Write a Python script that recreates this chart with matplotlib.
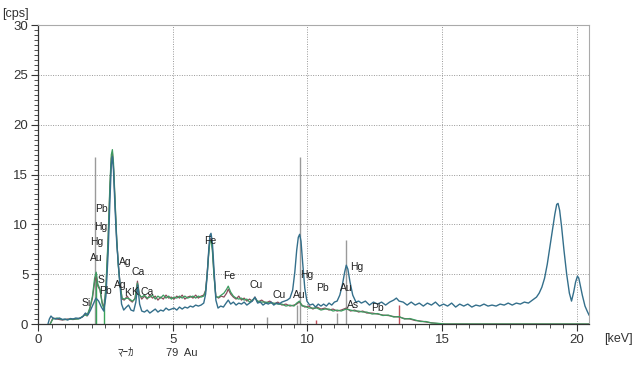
"""
plot.py
XRF spectrum overlay (cps vs keV) with Au marker lines and element labels.
"""

import matplotlib
matplotlib.use("Agg")
import matplotlib.pyplot as plt
from matplotlib.ticker import MultipleLocator

# --- spectrum A (teal) ---
energy_a = [0.37, 0.42, 0.48, 0.55, 0.65, 0.8, 0.9, 1.0, 1.1, 1.2, 1.3, 1.4, 1.55, 1.68,
            1.76, 1.85, 1.95, 2.05, 2.15, 2.25, 2.35, 2.44, 2.52, 2.6, 2.67, 2.72, 2.76,
            2.8, 2.86, 2.92, 2.98, 3.04, 3.1, 3.18, 3.28, 3.36, 3.45, 3.55, 3.63, 3.7,
            3.77, 3.85, 3.95, 4.05, 4.15, 4.25, 4.35, 4.45, 4.55, 4.65, 4.75, 4.85, 4.95,
            5.05, 5.15, 5.25, 5.35, 5.45, 5.55, 5.65, 5.75, 5.85, 5.95, 6.05, 6.15, 6.22,
            6.28, 6.34, 6.38, 6.42, 6.47, 6.53, 6.6, 6.68, 6.78, 6.88, 6.98, 7.06, 7.15,
            7.25, 7.35, 7.45, 7.55, 7.65, 7.75, 7.85, 7.95, 8.05, 8.15, 8.25, 8.35, 8.45,
            8.55, 8.65, 8.75, 8.85, 8.95, 9.05, 9.15, 9.25, 9.35, 9.45, 9.53, 9.6, 9.66,
            9.71, 9.76, 9.82, 9.9, 9.98, 10.08, 10.2, 10.3, 10.4, 10.5, 10.6, 10.7, 10.8,
            10.9, 11.0, 11.1, 11.2, 11.3, 11.38, 11.44, 11.5, 11.58, 11.68, 11.8, 11.9,
            12.0, 12.15, 12.3, 12.45, 12.6, 12.75, 12.9, 13.05, 13.2, 13.3, 13.4, 13.55,
            13.7, 13.85, 14.0, 14.15, 14.3, 14.45, 14.6, 14.75, 14.9, 15.05, 15.2, 15.35,
            15.5, 15.65, 15.8, 15.95, 16.1, 16.25, 16.4, 16.55, 16.7, 16.85, 17.0, 17.15,
            17.3, 17.45, 17.6, 17.75, 17.9, 18.05, 18.2, 18.35, 18.5, 18.6, 18.7, 18.8,
            18.9, 19.0, 19.1, 19.18, 19.25, 19.3, 19.36, 19.43, 19.52, 19.62, 19.72, 19.8,
            19.88, 19.95, 20.02, 20.07, 20.13, 20.2, 20.3, 20.38, 20.45]
cps_a = [0.0, 0.5, 0.8, 0.6, 0.5, 0.6, 0.45, 0.5, 0.4, 0.55, 0.5, 0.6, 0.55, 0.8,
         1.1, 0.9, 1.4, 2.0, 2.6, 2.3, 1.7, 1.3, 2.8, 7.0, 12.5, 16.0, 16.8,
         15.5, 11.5, 8.2, 6.0, 4.0, 2.0, 1.4, 1.7, 1.9, 1.4, 1.3, 2.2, 3.9,
         2.0, 1.3, 1.2, 1.4, 1.1, 1.3, 1.5, 1.2, 1.4, 1.3, 1.6, 1.4, 1.5,
         1.6, 1.4, 1.7, 1.5, 1.7, 1.6, 1.8, 1.7, 1.9, 1.8, 1.9, 2.1, 3.0,
         5.0, 7.6, 8.9, 9.1, 8.2, 5.5, 2.4, 1.6, 1.8, 1.7, 2.1, 2.4, 2.0,
         2.2, 1.9, 2.1, 2.0, 2.2, 1.9, 2.1, 2.3, 2.7, 2.1, 2.2, 1.9, 2.1,
         2.0, 2.2, 1.9, 2.1, 2.0, 2.2, 2.3, 2.4, 2.6, 3.4, 5.2, 7.4, 8.7,
         9.0, 8.3, 6.2, 3.6, 2.3, 1.9, 2.0, 1.7, 2.0, 1.8, 2.0, 1.8, 2.1,
         1.9, 2.2, 2.3, 2.9, 4.0, 5.2, 5.9, 5.5, 4.2, 2.9, 2.2, 2.3,
         2.1, 2.3, 1.9, 2.2, 2.0, 2.2, 1.9, 2.2, 2.4, 2.6, 2.3, 2.2,
         1.9, 2.2, 1.9, 2.1, 1.8, 2.1, 1.9, 2.2, 1.8, 2.0, 1.8, 2.1,
         1.7, 2.0, 1.8, 2.0, 1.7, 1.9, 1.8, 2.0, 1.8, 1.9, 1.8, 2.0,
         1.9, 2.1, 1.9, 2.1, 2.0, 2.2, 2.1, 2.4, 2.7, 3.1, 3.7, 4.6,
         6.0, 7.8, 9.6, 11.0, 12.0, 12.1, 11.4, 9.8, 7.4, 5.0, 3.1, 2.3,
         3.2, 4.2, 4.8, 4.6, 3.8, 2.9, 1.8, 1.3, 0.9]

# --- spectra B (brown) and C (green), same energy grid ---
energy_b = [0.45, 0.55, 0.7, 0.9, 1.1, 1.3, 1.5, 1.65, 1.74, 1.82, 1.92, 2.02, 2.1, 2.16,
            2.22, 2.3, 2.38, 2.45, 2.52, 2.6, 2.67, 2.72, 2.76, 2.8, 2.86, 2.92, 2.98, 3.04,
            3.12, 3.2, 3.31, 3.4, 3.5, 3.6, 3.69, 3.76, 3.85, 3.95, 4.05, 4.15, 4.25, 4.35,
            4.45, 4.55, 4.65, 4.75, 4.85, 4.95, 5.05, 5.15, 5.25, 5.35, 5.45, 5.55, 5.65,
            5.75, 5.85, 5.95, 6.05, 6.15, 6.22, 6.28, 6.34, 6.38, 6.42, 6.47, 6.53, 6.6,
            6.7, 6.8, 6.9, 7.0, 7.06, 7.15, 7.25, 7.35, 7.45, 7.55, 7.65, 7.75, 7.85, 7.95,
            8.05, 8.15, 8.3, 8.45, 8.6, 8.75, 8.9, 9.05, 9.2, 9.35, 9.5, 9.6, 9.7, 9.8,
            9.9, 10.05, 10.2, 10.35, 10.5, 10.65, 10.8, 10.95, 11.1, 11.25, 11.44, 11.6,
            11.75, 11.9, 12.05, 12.2, 12.4, 12.6, 12.8, 13.0, 13.2, 13.4, 13.6, 13.8, 14.0,
            14.2, 14.4, 14.6, 14.8, 15.1, 16.0, 18.0, 20.45]
cps_b = [0.0, 0.6, 0.5, 0.4, 0.5, 0.45, 0.55, 0.7, 1.0, 0.8, 1.5, 2.6, 4.2, 4.8,
         3.8, 3.4, 2.2, 1.6, 3.5, 8.2, 13.8, 16.6, 17.2, 15.8, 12.0, 8.4, 6.0, 4.2,
         2.5, 2.4, 2.8, 2.4, 2.2, 2.6, 4.3, 3.0, 2.5, 2.8, 2.5, 2.9, 2.6, 2.8,
         2.4, 2.7, 2.5, 2.9, 2.6, 2.7, 2.5, 2.8, 2.6, 2.9, 2.5, 2.7, 2.8,
         2.6, 2.9, 2.6, 2.8, 2.9, 3.4, 5.2, 7.4, 8.5, 8.6, 7.6, 5.0, 2.8,
         2.6, 2.8, 2.7, 3.1, 3.5, 3.0, 2.7, 2.5, 2.8, 2.4, 2.6, 2.3, 2.5, 2.3,
         2.7, 2.2, 2.4, 2.1, 2.3, 2.0, 2.2, 1.9, 2.0, 1.8, 1.9, 2.0, 2.2, 1.9,
         1.7, 1.8, 1.5, 1.7, 1.5, 1.6, 1.4, 1.5, 1.3, 1.4, 1.6, 1.3,
         1.4, 1.2, 1.3, 1.1, 1.1, 1.0, 0.9, 0.85, 0.75, 0.7, 0.55, 0.5, 0.35,
         0.3, 0.2, 0.12, 0.05, 0.0, 0.0, 0.0, 0.0]
cps_c = [0.0, 0.5, 0.6, 0.45, 0.45, 0.5, 0.5, 0.75, 0.9, 0.85, 1.6, 2.8, 4.6, 5.2,
         4.0, 3.5, 2.0, 1.5, 3.8, 8.6, 14.2, 17.0, 17.5, 16.2, 12.3, 8.6, 5.8, 4.0,
         2.6, 2.5, 2.6, 2.5, 2.3, 2.5, 4.1, 2.9, 2.7, 2.9, 2.6, 2.7, 2.9, 2.5,
         2.8, 2.6, 2.9, 2.6, 2.8, 2.5, 2.7, 2.6, 2.8, 2.6, 2.8, 2.6, 2.7,
         2.8, 2.6, 2.8, 2.7, 2.8, 3.3, 5.0, 7.2, 8.3, 8.4, 7.4, 4.8, 2.7,
         2.7, 2.9, 3.1, 3.5, 3.8, 3.2, 2.8, 2.6, 2.5, 2.6, 2.4, 2.5, 2.2, 2.4,
         2.6, 2.3, 2.2, 2.2, 2.1, 2.1, 2.0, 2.0, 1.8, 1.9, 1.8, 2.1, 2.3, 1.8,
         1.8, 1.6, 1.6, 1.6, 1.4, 1.5, 1.5, 1.3, 1.4, 1.3, 1.5, 1.4,
         1.3, 1.3, 1.2, 1.2, 1.0, 1.05, 0.85, 0.9, 0.7, 0.75, 0.5, 0.55, 0.4,
         0.25, 0.25, 0.1, 0.08, 0.0, 0.0, 0.0, 0.0]

# --- marker lines (energy, height, colour) ---
marker_keV = [2.12, 8.49, 9.63, 9.71, 11.44, 11.10, 13.38, 2.16, 2.43, 10.3]
marker_top = [16.8, 0.7, 1.9, 16.8, 8.4, 1.1, 1.9, 4.5, 2.5, 0.4]
marker_col = ["#9a9a9a", "#9a9a9a", "#9a9a9a", "#9a9a9a", "#9a9a9a", "#9a9a9a",
              "#c0505a", "#3aa35a", "#3aa35a", "#c0505a"]

# --- element labels ---
label_text = ["Si", "Au", "Hg", "Hg", "Pb", "S", "Pb", "Ag", "Ag", "Ca", "K", "K", "Ca",
              "Fe", "Fe", "Cu", "Cu", "Au", "Hg", "Pb", "Au", "Hg", "As", "Pb"]
label_x = [1.78, 2.15, 2.19, 2.34, 2.37, 2.34, 2.52, 3.23, 3.04, 3.71, 3.34, 3.6, 4.04,
           6.38, 7.09, 8.09, 8.94, 9.68, 9.98, 10.54, 11.43, 11.84, 11.69, 12.6]
label_y = [2.1, 6.6, 8.2, 9.7, 11.5, 4.4, 3.3, 6.2, 3.9, 5.2, 3.1, 3.2, 3.2,
           8.3, 4.8, 3.9, 2.9, 2.9, 4.9, 3.6, 3.6, 5.7, 1.9, 1.6]

TEAL = "#346f8b"
GREEN = "#3c9b60"
BROWN = "#8a4d5c"
AXIS = "#333333"

plt.rcParams["font.family"] = ["Liberation Sans", "Noto Sans CJK JP", "DejaVu Sans"]

fig = plt.figure(figsize=(6.37, 3.65), dpi=100)
ax = fig.add_axes([0.0597, 0.1123, 0.865, 0.8192])

ax.vlines(marker_keV, 0, marker_top, colors=marker_col, linewidth=1.0, zorder=2)
ax.plot(energy_b, cps_b, color=BROWN, linewidth=0.9, zorder=3)
ax.plot(energy_b, cps_c, color=GREEN, linewidth=0.9, zorder=4)
ax.plot(energy_a, cps_a, color=TEAL, linewidth=1.0, zorder=5)

for t, x, y in zip(label_text, label_x, label_y):
    ax.text(x, y, t, fontsize=7.5, color="#222222", ha="center", va="center", zorder=6)

ax.set_xlim(0, 20.45)
ax.set_ylim(0, 30)
ax.xaxis.set_major_locator(MultipleLocator(5))
ax.xaxis.set_minor_locator(MultipleLocator(0.5))
ax.yaxis.set_major_locator(MultipleLocator(5))
ax.yaxis.set_minor_locator(MultipleLocator(0.5))
ax.tick_params(which="major", length=5, width=0.8, color=AXIS, labelsize=9.5,
               labelcolor=AXIS, pad=2)
ax.tick_params(which="minor", length=3, width=0.6, color=AXIS)
ax.grid(True, which="major", linestyle=(0, (1, 1.5)), color="#999999", linewidth=0.7)

for side in ("left", "bottom"):
    ax.spines[side].set_color(AXIS)
    ax.spines[side].set_linewidth(0.9)
for side in ("top", "right"):
    ax.spines[side].set_color("#aaaaaa")
    ax.spines[side].set_linewidth(0.8)

fig.text(0.004, 0.962, "[cps]", fontsize=9, color=AXIS, ha="left", va="center")
fig.text(0.948, 0.071, "[keV]", fontsize=9, color=AXIS, ha="left", va="center")
fig.text(0.185, 0.033, "ﾏｰｶ", fontsize=8, color=AXIS, ha="left", va="center")
fig.text(0.26, 0.033, "79  Au", fontsize=8, color=AXIS, ha="left", va="center")

fig.savefig("out.png", dpi=100)
